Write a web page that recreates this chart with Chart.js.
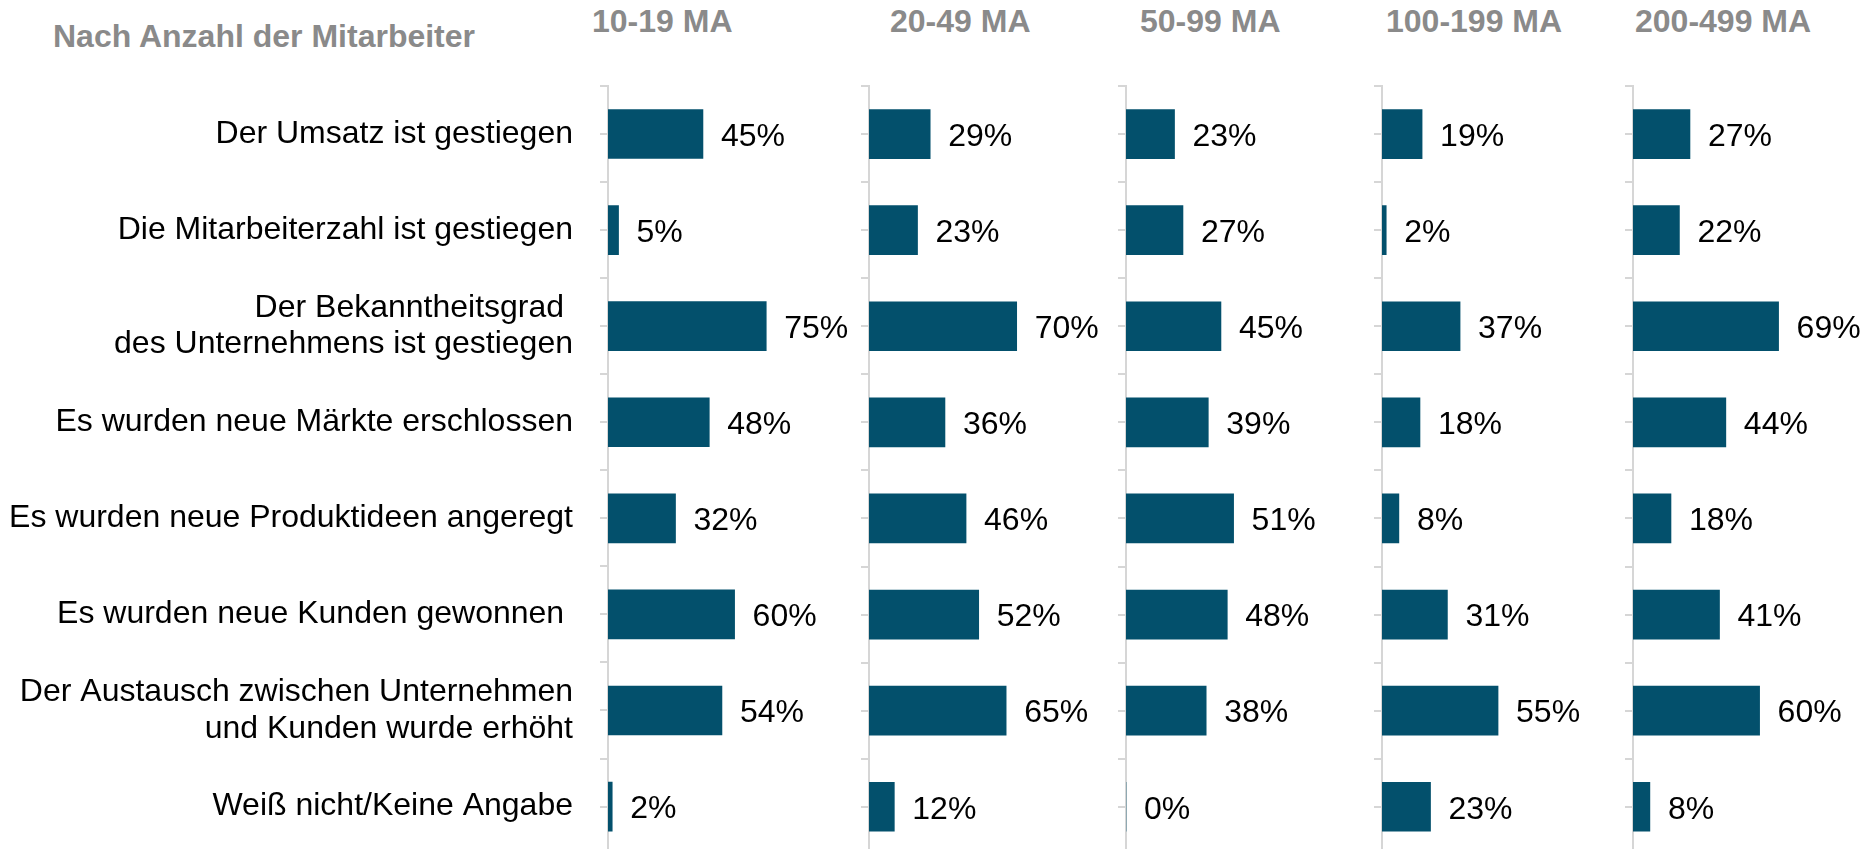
<!DOCTYPE html>
<html><head><meta charset="utf-8">
<script src="https://cdn.jsdelivr.net/npm/chart.js@4.4.1/dist/chart.umd.min.js"></script>
<style>
html,body{margin:0;padding:0;background:#fff;width:1870px;height:849px;overflow:hidden;position:relative;font-family:'Liberation Sans',Arial,sans-serif}
.t{position:absolute;color:#8a8a8a;font-weight:bold;font-size:32px;white-space:nowrap;line-height:32px}
canvas{position:absolute;top:0}
</style></head><body>
<div id="hdr"></div>
<script>
// ---- data ----
const chartTitle = 'Nach Anzahl der Mitarbeiter';
const categories = [
  'Der Umsatz ist gestiegen',
  'Die Mitarbeiterzahl ist gestiegen',
  ['Der Bekanntheitsgrad ', 'des Unternehmens ist gestiegen'],
  'Es wurden neue Märkte erschlossen',
  'Es wurden neue Produktideen angeregt',
  'Es wurden neue Kunden gewonnen ',
  ['Der Austausch zwischen Unternehmen', 'und Kunden wurde erhöht'],
  'Weiß nicht/Keine Angabe'
];
const panelTitles = ['10-19 MA', '20-49 MA', '50-99 MA', '100-199 MA', '200-499 MA'];
const ma10to19   = [45, 5, 75, 48, 32, 60, 54, 2];
const ma20to49   = [29, 23, 70, 36, 46, 52, 65, 12];
const ma50to99   = [23, 27, 45, 39, 51, 48, 38, 0];
const ma100to199 = [19, 2, 37, 18, 8, 31, 55, 23];
const ma200to499 = [27, 22, 69, 44, 18, 41, 60, 8];
const panelValues = [ma10to19, ma20to49, ma50to99, ma100to199, ma200to499];

// ---- layout / style ----
const FONT = "'Liberation Sans', Arial, sans-serif";
const BAR = '#03506c';
const GRID = '#d6d6d6';
const axisX = [608, 869, 1126, 1382, 1633];
const headerX = [592, 890, 1140, 1386, 1635];
const AREA_W = 211;          // width of 0..100%
const TOP = 86, CAT_H = 96.1;
const CANVAS_H = 900;

const hdr = document.getElementById('hdr');
function addText(txt, left, top){
  const d = document.createElement('div');
  d.className = 't'; d.textContent = txt;
  d.style.left = left + 'px'; d.style.top = top + 'px';
  hdr.appendChild(d);
}
addText(chartTitle, 53, 20);
panelTitles.forEach((t, i) => addText(t, headerX[i], 5));

const decor = {
  id: 'decor',
  afterDraw(chart) {
    const ctx = chart.ctx, y = chart.scales.y;
    const vals = chart.data.datasets[0].data;
    ctx.save();
    ctx.strokeStyle = GRID; ctx.lineWidth = 2;
    for (let k = 0; k < vals.length; k++) {
      const py = Math.round(y.getPixelForValue(k));
      ctx.beginPath(); ctx.moveTo(y.right - 8, py); ctx.lineTo(y.right, py); ctx.stroke();
    }
    ctx.fillStyle = '#000';
    ctx.font = '32px ' + FONT;
    ctx.textBaseline = 'middle'; ctx.textAlign = 'left';
    chart.getDatasetMeta(0).data.forEach((bar, k) => {
      ctx.fillText(vals[k] + '%', bar.x + 18, bar.y + 3);
    });
    ctx.restore();
  }
};

panelValues.forEach((vals, i) => {
  const first = i === 0;
  const left = first ? 0 : axisX[i] - 10;
  const yW = axisX[i] - left;
  const right = i < 4 ? axisX[i + 1] : 1870;
  const width = right - left;
  const padRight = width - yW - AREA_W;
  const cv = document.createElement('canvas');
  cv.width = width; cv.height = CANVAS_H;
  cv.style.left = left + 'px';
  cv.style.width = width + 'px'; cv.style.height = CANVAS_H + 'px';
  document.body.appendChild(cv);
  new Chart(cv, {
    type: 'bar',
    data: { labels: categories, datasets: [{ data: vals, backgroundColor: BAR, borderWidth: 0, barThickness: 49 }] },
    options: {
      indexAxis: 'y', responsive: false, animation: false, devicePixelRatio: 1,
      layout: { padding: { left: 0, right: padRight, top: TOP, bottom: CANVAS_H - TOP - CAT_H * 8 } },
      plugins: { legend: { display: false }, tooltip: { enabled: false } },
      scales: {
        x: { display: false, min: 0, max: 100 },
        y: {
          afterFit(s) { s.width = yW; },
          border: { display: true, color: GRID, width: 2 },
          grid: { offset: true, drawOnChartArea: false, drawTicks: true, tickLength: 8, color: GRID, lineWidth: 2 },
          ticks: { display: first, color: '#000', padding: 27, font: { family: FONT, size: 32, lineHeight: 1.15 } }
        }
      }
    },
    plugins: [decor]
  });
});
</script>
</body></html>
